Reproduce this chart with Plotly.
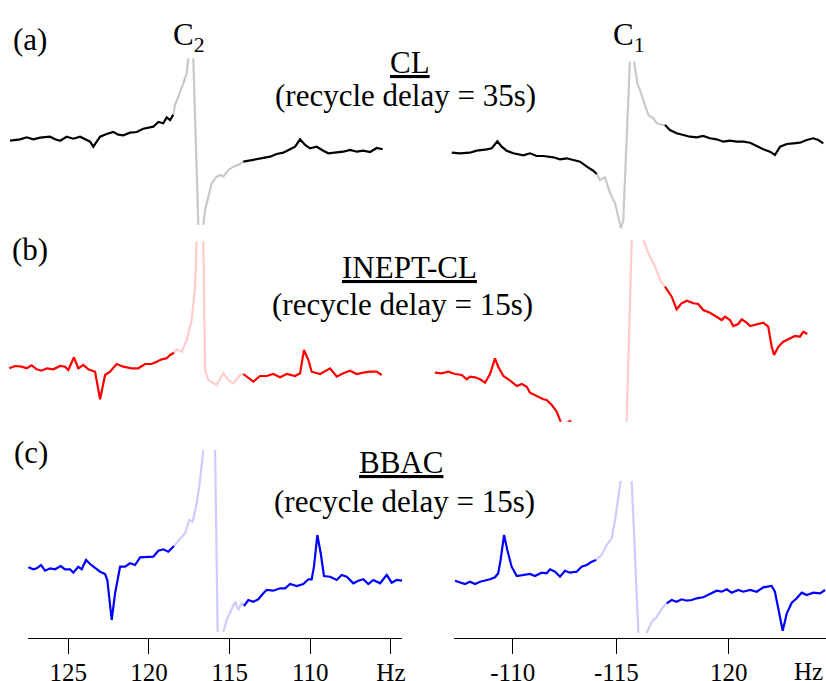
import plotly.graph_objects as go

# ---------------- data (chemical shift in Hz, intensity in a.u.) ----------------
# (a) CL, C2 region (left) and C1 region (right)
cl_c2_hz = [128.61,127.99,127.58,127.17,126.75,126.13,125.82,125.51,125.10,124.69,124.27,123.96,123.65,123.45,123.24,123.03,122.62,122.21,121.90,121.59,121.17,120.76,120.35,119.93,119.73,119.42,119.11,118.90,118.69,118.49,
            118.38,117.87,117.66,117.56,117.40,117.25,116.94,116.78,116.63,116.52,116.11,115.80,115.59,115.39,115.08,114.77,114.46,114.15,
            113.53,112.91,112.49,112.08,111.67,111.25,110.94,110.63,110.32,110.01,109.60,109.19,108.88,108.36,107.95,107.53,107.12,106.71,106.29,105.88,105.51]
cl_c2_int = [-0.7,0.7,2.7,0.7,2.3,3.3,0.7,-0.7,3.3,1.3,3.3,0.7,-1.7,-6.7,-1.7,3.3,6,8,5.3,4.7,7.3,8,11.3,12.7,13.3,18,16.7,22.7,20,25.3,
             35,56.7,66.7,81.7,130,81.7,-85,-130,-85,-70,-43.3,-36.7,-35,-36.7,-30,-26.7,-25,-21.7,
             -20,-18.3,-16.7,-14,-12.7,-9.3,-6.7,0.7,-5,-8.3,-6.7,-10.7,-13.3,-12.3,-11.7,-10,-11.7,-10.7,-12,-8,-9.3]
cl_c2_fade = (114.15, 118.49)

cl_c1_hz = [107.18,107.56,108.02,108.33,108.80,109.03,109.29,109.49,109.72,110.03,110.49,110.80,111.11,111.42,111.88,112.19,112.50,112.81,113.12,113.43,113.73,113.89,
            114.04,114.27,114.51,114.74,114.89,115.01,115.12,115.28,115.44,115.52,115.62,115.77,115.89,116.05,116.28,116.51,116.67,116.97,117.05,
            117.28,117.59,117.90,118.21,118.52,118.82,119.13,119.44,119.75,120.06,120.37,120.68,120.99,121.30,121.60,121.91,122.14,122.38,122.69,122.99,123.30,123.61,123.92,124.15,124.38]
cl_c1_int = [-0.7,-1.3,-0.7,1.3,2.7,3.7,10.7,5.3,1.3,-1.3,-3.3,-1.3,-4,-4,-5.3,-7.3,-6.3,-8,-9.7,-14.7,-18.7,-22,
             -28,-25.3,-41.3,-51.3,-64.7,-76.3,-68,12,90.3,140,90.3,68.7,62,52,37,33.7,28.7,27,27,
             22,18.7,17,15.3,14.7,16,13.7,12.7,10.3,11.3,10.3,10.3,9.3,6,2.7,0.3,-3,5.3,8,8.7,9.3,12,13.7,12,8.7]
cl_c1_fade = (113.89, 117.05)

# (b) INEPT-CL
inept_c2_hz = [128.66,128.30,127.89,127.58,127.27,126.96,126.65,126.34,125.93,125.51,125.20,125.00,124.65,124.38,124.07,123.76,123.34,123.03,122.72,122.41,122.00,121.59,121.07,120.66,120.24,119.83,119.52,119.21,118.90,118.69,118.45,
               118.28,117.97,117.66,117.35,117.14,117.04,116.83,116.63,116.52,116.32,115.80,115.39,115.08,114.77,114.35,114.15,
               113.53,113.11,112.70,112.29,111.87,111.46,110.94,110.63,110.39,110.12,109.91,109.39,108.77,108.36,107.95,107.53,107.12,106.71,106.29,105.88,105.57]
inept_c2_int = [-0.3,2,1.3,-0.3,2.7,-1.3,-2.7,-0.3,-1.3,2,1.3,-2,10.7,-0.3,3,-1.3,-3.7,-31.3,-7,-3.7,4,1.3,-0.3,-0.3,4,4,6.3,8.7,9.7,13,15.3,
                18.7,16.3,28,48,81.3,126.5,200,126.5,-2,-12,-17,-5.3,-12,-15.3,-7,-6,
                -13.7,-8,-8,-6,-9.3,-6,-8,-5.3,18,8,-3.7,-6,-0.3,-8.7,-5.3,-2.7,-6,-4.7,-3.7,-3.7,-7]
inept_c2_fade = (114.15, 118.45)

inept_c1_hz = [106.40,106.71,107.02,107.33,107.64,107.87,108.02,108.26,108.49,108.72,108.95,109.18,109.33,109.57,109.88,110.19,110.42,110.65,110.80,111.11,111.42,111.57,111.81,112.04,112.19,112.33,112.51,112.65,112.79,112.93,
               113.58,114.27,115.01,115.57,115.75,116.05,116.28,116.59,116.82,117.05,
               117.36,117.59,117.82,118.06,118.36,118.59,118.82,119.13,119.44,119.68,119.83,120.06,120.21,120.44,120.60,120.83,120.99,121.30,121.60,121.83,121.99,122.10,122.30,122.53,122.84,123.07,123.30,123.45,123.64]
inept_c1_int = [0.3,-0.3,1.3,-1,-2,-6.3,-3.7,-4.3,-6.3,-9.7,-1,14.7,6.3,-3,-7.7,-13,-11,-13.7,-19.7,-23,-26.3,-27,-32,-38.7,-47,-55,-50,-48,-52,-60,
                -90,-130,-256,180,230,133,119.7,106.3,93,86.3,
                76.3,63.7,69.7,72.3,69.7,69,63,60.3,55.7,53,56.3,53,47,49,53.7,50.3,47,49,50.3,46.3,26.3,18,26.3,31.3,34.7,37,36.3,41.3,39]
inept_c1_fade = (112.93, 117.05)

# (c) BBAC
bbac_c2_hz = [127.48,127.17,126.96,126.69,126.44,126.13,125.82,125.47,125.20,124.89,124.69,124.38,124.17,123.90,123.65,123.34,123.03,122.72,122.58,122.31,122.10,121.79,121.48,121.17,120.86,120.55,120.14,119.73,119.42,119.11,118.80,118.45,
              118.07,117.76,117.50,117.29,117.04,116.83,116.63,116.28,115.90,115.74,115.56,115.39,115.18,114.87,114.66,114.46,114.25,114.11,
              113.84,113.53,113.22,112.91,112.70,112.29,111.87,111.56,111.25,110.84,110.43,110.12,109.91,109.77,109.56,109.35,109.15,108.77,108.36,108.05,107.74,107.33,107.02,106.71,106.40,106.09,105.67,105.26,104.95,104.64,104.27]
bbac_c2_int = [0.7,-1.3,-0.3,3,-2.7,-0.3,-1.3,2,-1.3,-1.3,-4.7,1.3,-1.3,8,4,-0.3,-3.7,-6,-12,-52,-25.3,1.3,1.3,4.7,3,10.7,10.7,11.3,17.3,18.7,16.3,22,
               28.7,34.7,48,46.3,64.7,88,118,250,118,-64,-150,-64,-52,-42,-33.7,-42,-34.7,-38,
               -32,-33.7,-31.3,-25.3,-22,-22.7,-20.3,-20.3,-16,-18,-16,-11.3,-11.3,1.3,33,14.7,-8,-8.7,-12,-7,-8.7,-15.3,-12.7,-11.3,-16,-12,-15.3,-7,-14.7,-12,-12.7]
bbac_c2_fade = (114.11, 118.45)

bbac_c1_hz = [107.33,107.56,107.79,108.02,108.26,108.49,108.72,108.95,109.18,109.33,109.44,109.60,109.75,109.95,110.19,110.49,110.80,111.03,111.34,111.57,111.73,111.96,112.19,112.42,112.65,112.96,113.19,113.43,113.66,113.86,
              114.12,114.35,114.58,114.74,114.89,115.00,115.25,115.51,115.82,115.99,116.20,116.44,116.67,116.97,117.13,
              117.36,117.59,117.82,118.06,118.29,118.52,118.82,119.13,119.44,119.68,119.91,120.14,120.44,120.68,120.99,121.30,121.60,121.99,122.14,122.34,122.50,122.69,122.92,123.15,123.38,123.61,123.92,124.23,124.46]
bbac_c1_int = [1.3,-0.7,-2,0.3,-2,0.3,1.3,2.7,4.7,8.7,22,47,32,15.3,6,7,8,6,9.3,8.7,12.7,10.3,5.3,11.3,9.3,10.3,15.3,17,20.3,22,
               27,37,43.7,62,82,101,250,101,-51,-70,-51,-39.7,-34.7,-24.7,-21.3,
               -18,-19.7,-17.3,-18.7,-18,-16.3,-15.3,-12,-8.7,-9.7,-7.3,-10.7,-8,-9.7,-8,-9.7,-5.3,-4,-9.7,-31.3,-48.7,-31.3,-20.7,-16.3,-10.7,-13,-10.7,-11.3,-8]
bbac_c1_fade = (113.86, 117.13)

# tick labels
left_tick_vals = [125, 120, 115, 110, 105]
left_tick_text = ["125", "120", "115", "110", "Hz"]
right_tick_vals = [110, 114.8, 120]
right_tick_text = ["-110", "-115", "120"]

# texts: (text, x px, y px, size)
labels = [
    ("(a)", 30, 39, 31),
    ("C<sub>2</sub>", 189, 37, 31),
    ("C<sub>1</sub>", 629, 37, 31),
    ("<u>CL</u>", 410, 62, 31),
    ("(recycle delay = 35s)", 405, 96, 31),
    ("(b)", 30, 250, 31),
    ("<u>INEPT-CL</u>", 409, 268, 31),
    ("(recycle delay = 15s)", 402, 305, 31),
    ("(c)", 31, 452, 31),
    ("<u>BBAC</u>", 401, 463, 31),
    ("(recycle delay = 15s)", 404, 502, 31),
    ("Hz", 808, 671, 25),
]

# ---------------- layout helpers ----------------
W, H = 826, 681
FONT = "Liberation Serif"


def left_hz(p):   # pixel -> Hz on the left scale (reversed)
    return 125 - (p - 68.3) / 16.13


def right_hz(p):  # pixel -> Hz on the right scale
    return 110 + (p - 512.7) / 21.6


panels = [
    # hz, int, fade, dark, light, side, x px domain, y px domain (top,bottom), baseline px, show axis
    (cl_c2_hz, cl_c2_int, cl_c2_fade, "#000000", "#c9c9c9", "L", (0, 402), (58.3, 225), 140, False),
    (cl_c1_hz, cl_c1_int, cl_c1_fade, "#000000", "#c9c9c9", "R", (430, 826), (61.7, 232), 152, False),
    (inept_c2_hz, inept_c2_int, inept_c2_fade, "#ff0000", "#ffcccc", "L", (0, 402), (241.5, 402), 368, False),
    (inept_c1_hz, inept_c1_int, inept_c1_fade, "#ff0000", "#ffcccc", "R", (430, 826), (240, 421.7), 373, False),
    (bbac_c2_hz, bbac_c2_int, bbac_c2_fade, "#0000ff", "#ccccff", "L", (28, 402), (450, 632), 568, True),
    (bbac_c1_hz, bbac_c1_int, bbac_c1_fade, "#0000ff", "#ccccff", "R", (454, 826), (481, 633), 582, True),
]

fig = go.Figure()
layout = dict(width=W, height=H, margin=dict(l=0, r=0, t=0, b=0, autoexpand=False),
              paper_bgcolor="white", plot_bgcolor="white", showlegend=False)

for i, (hz, inten, (lo, hi), dark, light, side, xd, yd, base, bottom) in enumerate(panels, start=1):
    sfx = "" if i == 1 else str(i)
    below = [(x, y) for x, y in zip(hz, inten) if x <= lo]
    mid = [(x, y) for x, y in zip(hz, inten) if lo <= x <= hi]
    above = [(x, y) for x, y in zip(hz, inten) if x >= hi]
    for seg, col in ((mid, light), (below, dark), (above, dark)):
        fig.add_trace(go.Scatter(x=[p[0] for p in seg], y=[p[1] for p in seg], mode="lines",
                                 line=dict(color=col, width=2.2), xaxis="x" + sfx, yaxis="y" + sfx,
                                 hoverinfo="skip"))
    conv = left_hz if side == "L" else right_hz
    xaxis = dict(domain=[xd[0] / W, xd[1] / W], range=[conv(xd[0]), conv(xd[1])],
                 anchor="y" + sfx, showgrid=False, zeroline=False, fixedrange=True,
                 automargin=False)
    if bottom:
        xaxis.update(visible=True, anchor="free", position=1 - 638 / H, showline=True,
                     linecolor="black", linewidth=1.3, ticks="outside", ticklen=15, tickwidth=1.3,
                     tickcolor="black", ticklabelstandoff=-3,
                     tickfont=dict(family=FONT, size=25, color="black"),
                     tickvals=left_tick_vals if side == "L" else right_tick_vals,
                     ticktext=left_tick_text if side == "L" else right_tick_text)
    else:
        xaxis.update(visible=False)
    yaxis = dict(domain=[1 - yd[1] / H, 1 - yd[0] / H], range=[base - yd[1], base - yd[0]],
                 anchor="x" + sfx, visible=False, fixedrange=True, automargin=False)
    layout["xaxis" + sfx] = xaxis
    layout["yaxis" + sfx] = yaxis

annotations = []
for text, x, y, size in labels:
    annotations.append(dict(text=text, x=x / W, y=1 - y / H, xref="paper", yref="paper",
                            xanchor="center", yanchor="middle", showarrow=False,
                            font=dict(family=FONT, size=size, color="black")))
layout["annotations"] = annotations

fig.update_layout(**layout)
fig.write_html("out.html")
